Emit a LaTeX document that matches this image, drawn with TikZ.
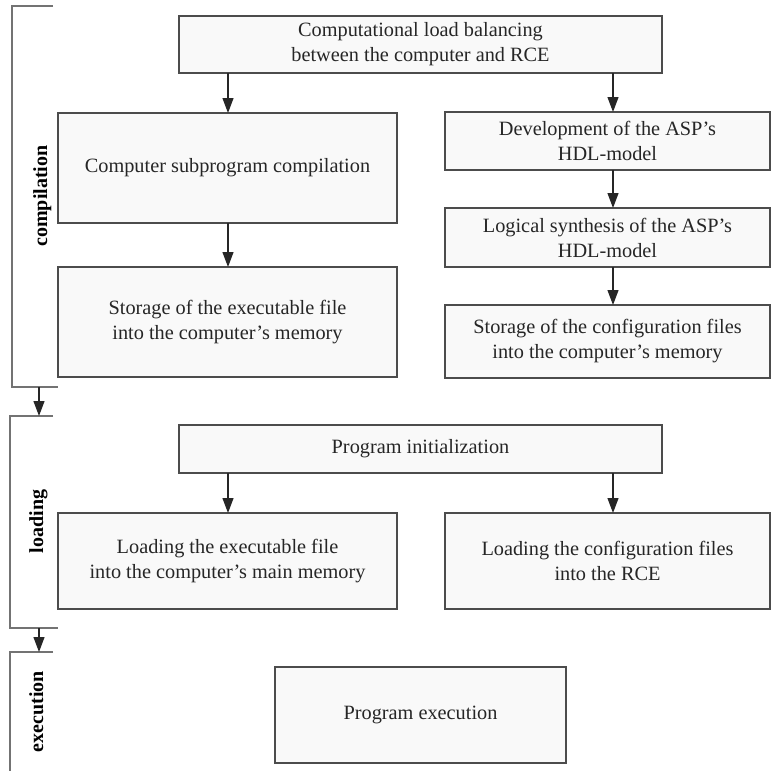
\documentclass[tikz,border=0pt]{standalone}
\usepackage{fontspec}
\setmainfont{Liberation Serif}
\usetikzlibrary{arrows.meta}

\begin{document}
\begin{tikzpicture}[x=1pt,y=-1pt,
  stage/.style={draw=black!70,fill=black!2.5,line width=1.4pt,text=black!85,align=center,
    inner sep=0pt,outer sep=0pt,font=\fontsize{20.3}{25}\selectfont},
  wide/.style={stage,minimum width=483pt},
  lcol/.style={stage,minimum width=339pt},
  rcol/.style={stage,minimum width=325pt},
  phase/.style={rotate=90,text height=14pt,text depth=4pt,inner sep=0pt,
    font=\fontsize{20}{24}\selectfont\bfseries},
  bracket/.style={draw=black!55,line width=1.3pt},
  flow/.style={draw=black!85,line width=1.2pt,-{Triangle[width=11pt,length=15pt]}}]
\useasboundingbox (0,0) rectangle (771,771);
\coordinate (colL) at (228,0);
\coordinate (colR) at (613,0);

\path (420.5,44.5) node[wide,minimum height=57pt] (balance) {Computational load balancing\\between the computer and RCE};

\path (227.5,168) node[lcol,minimum height=110pt] (compile) {Computer subprogram compilation};
\draw[flow] (balance.south -| colL) -- (compile.north -| colL);
\path (227.5,322) node[lcol,minimum height=110pt] (storeexe) {Storage of the executable file\\into the computer's memory};
\draw[flow] (compile.south -| colL) -- (storeexe.north -| colL);

\path (607.5,141) node[rcol,minimum height=58pt] (hdldev) {Development of the ASP's\\HDL-model};
\draw[flow] (balance.south -| colR) -- (hdldev.north -| colR);
\path (607.5,237.5) node[rcol,minimum height=59pt] (hdlsyn) {Logical synthesis of the ASP's\\HDL-model};
\draw[flow] (hdldev.south -| colR) -- (hdlsyn.north -| colR);
\path (607.5,341.5) node[rcol,minimum height=73pt] (storecfg) {Storage of the configuration files\\into the computer's memory};
\draw[flow] (hdlsyn.south -| colR) -- (storecfg.north -| colR);

\path (420.5,449) node[wide,minimum height=48pt] (init) {Program initialization};
\path (227.5,561) node[lcol,minimum height=96pt] (loadexe) {Loading the executable file\\into the computer's main memory};
\draw[flow] (init.south -| colL) -- (loadexe.north -| colL);
\path (607.5,561) node[rcol,minimum height=96pt] (loadcfg) {Loading the configuration files\\into the RCE};
\draw[flow] (init.south -| colR) -- (loadcfg.north -| colR);

\path (420.5,715) node[stage,minimum width=291pt,minimum height=96pt] (exec) {Program execution};

\draw[bracket] (53,6) -- (12,6) -- (12,387) -- (58,387);
\path (42,196) node[phase] (compilation) {compilation};
\draw[bracket] (53,416) -- (10,416) -- (10,628) -- (58,628);
\path (38,521.5) node[phase] (loading) {loading};
\draw[bracket] (53,652) -- (10,652) -- (10,771);
\path (38,711.5) node[phase] (execution) {execution};

\coordinate (compEnd) at (39,387);
\coordinate (loadTop) at (39,416);
\draw[flow] (compEnd) -- (loadTop);
\coordinate (loadEnd) at (39,628);
\coordinate (execTop) at (39,652);
\draw[flow] (loadEnd) -- (execTop);
\end{tikzpicture}
\end{document}
